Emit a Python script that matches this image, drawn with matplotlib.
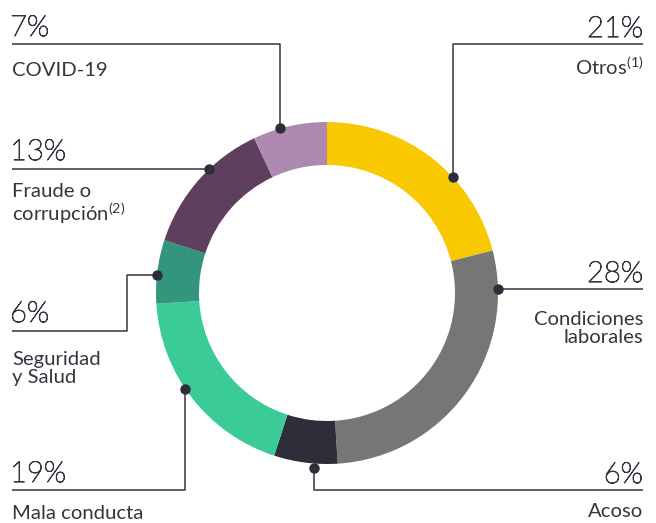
import matplotlib
matplotlib.use("Agg")
import matplotlib.pyplot as plt
import matplotlib.patheffects as pe
import numpy as np

# ---- data ----
categories = ["Otros", "Condiciones laborales", "Acoso", "Mala conducta",
              "Seguridad y Salud", "Fraude o corrupción", "COVID-19"]
values = [21, 28, 6, 19, 6, 13, 7]
pct_labels = ["21%", "28%", "6%", "19%", "6%", "13%", "7%"]
colors = ["#F8C800", "#767676", "#2E2E3A", "#3ACB97", "#33957C", "#5E405E", "#AD89B0"]

W, H = 656, 523
plt.rcParams['font.family'] = ['Lato', 'DejaVu Sans']
plt.rcParams['mathtext.fontset'] = 'custom'
plt.rcParams['mathtext.rm'] = 'Lato'
plt.rcParams['mathtext.default'] = 'regular'

fig = plt.figure(figsize=(W / 100, H / 100), dpi=100)
ax = fig.add_axes([0, 0, 1, 1])

def Y(y):
    return H - y

cx, cy, R, RW = 327, 293, 171, 43
ax.pie(values, colors=colors, startangle=90, counterclock=False,
       center=(cx, Y(cy)), radius=R, wedgeprops=dict(width=RW, linewidth=0),
       frame=True)
ax.set_xlim(0, W)
ax.set_ylim(0, H)
ax.set_aspect('equal')
ax.axis('off')

txt = "#35353F"
lc = "#35353F"
pct_fs = 21
lab_fs = 14.6

# anchor angles (degrees, standard orientation) for the dots
anchor_ang = {"Otros": 42.6, "Condiciones laborales": 1.3, "Acoso": 265.5,
              "Mala conducta": 214, "Seguridad y Salud": 174,
              "Fraude o corrupción": 133.6, "COVID-19": 105.8}

def dot(name):
    a = np.radians(anchor_ang[name])
    return cx + R * np.cos(a), cy - R * np.sin(a)

def route(points):
    xs = [p[0] for p in points]
    ys = [Y(p[1]) for p in points]
    ax.plot(xs, ys, color=lc, lw=1.1, solid_capstyle='butt', zorder=3)
    ax.plot(xs[0], ys[0], 'o', color="#2E2E3A", ms=6.5, zorder=4)

# Otros
dx, dy = dot("Otros")
route([(dx, dy), (dx, 44), (643, 44)])
# Condiciones
dx, dy = dot("Condiciones laborales")
route([(dx, dy), (643, dy)])
# Acoso
dx, dy = dot("Acoso")
route([(dx, dy + 5), (dx, 490), (643, 490)])
# Mala conducta
dx, dy = dot("Mala conducta")
route([(dx, dy), (dx, 490), (12, 490)])
# Seguridad
dx, dy = dot("Seguridad y Salud")
route([(dx, dy), (127, dy), (127, 331), (12, 331)])
# Fraude
dx, dy = dot("Fraude o corrupción")
route([(dx, dy), (12, dy)])
# COVID
dx, dy = dot("COVID-19")
route([(dx, dy), (dx, 44), (12, 44)])

def t(x, y, s, fs, ha='left', weight='normal', ls=1.2, family=None, effects=None):
    kw = {}
    if family:
        kw['family'] = family
    if effects:
        kw['path_effects'] = effects
    ax.text(x, Y(y), s, fontsize=fs, ha=ha, va='baseline', color=txt,
            fontweight=weight, linespacing=ls, multialignment=ha, **kw)

thick = [pe.withStroke(linewidth=0.7, foreground=txt)]

def p(x, y, s, ha='left'):
    t(x, y, s, pct_fs, ha=ha, weight='light', family=['Lato', 'DejaVu Sans'],
      effects=thick)

# left side
p(10, 36, pct_labels[6])
t(12, 76, "COVID-19", lab_fs)
p(10, 160, pct_labels[5])
t(12, 221, "Fraude o\ncorrupción$^{(2)}$", lab_fs, ls=1.05)
p(10, 322, pct_labels[4])
t(12, 383, "Seguridad\ny Salud", lab_fs, ls=1.05)
p(10, 482, pct_labels[3])
t(12, 519, "Mala conducta", lab_fs)

# right side
p(643, 37, pct_labels[0], ha='right')
t(643, 75, "Otros$^{(1)}$", lab_fs, ha='right')
p(643, 282, pct_labels[1], ha='right')
t(643, 343, "Condiciones\nlaborales", lab_fs, ha='right', ls=1.05)
p(643, 483, pct_labels[2], ha='right')
t(643, 517, "Acoso", lab_fs, ha='right')

fig.savefig("out.png", dpi=100, facecolor='white')
